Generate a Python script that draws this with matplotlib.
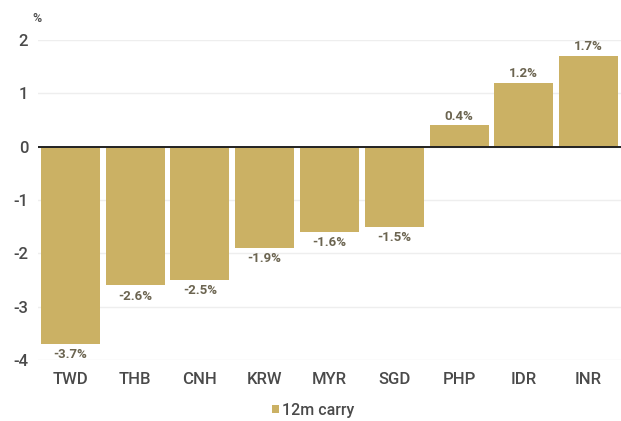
import matplotlib
matplotlib.use("Agg")
import matplotlib.pyplot as plt
import numpy as np

plt.rcParams['font.family'] = ['Roboto', 'DejaVu Sans']

currencies = ['TWD', 'THB', 'CNH', 'KRW', 'MYR', 'SGD', 'PHP', 'IDR', 'INR']
carry = [-3.7, -2.6, -2.5, -1.9, -1.6, -1.5, 0.4, 1.2, 1.7]
yticks = [-4, -3, -2, -1, 0, 1, 2]

bar_color = '#cbb164'
label_color = '#6b6450'
tick_color = '#4a4a4a'

fig = plt.figure(figsize=(6.21, 4.21), dpi=100)
ax = fig.add_axes([38 / 621, 1 - 360 / 421, 1 - 38 / 621, 320 / 421])

x = np.arange(len(currencies))
bars = ax.bar(x, carry, width=0.91, color=bar_color, zorder=2, label='12m carry')

for xi, v in zip(x, carry):
    off = 0.05 if v > 0 else -0.08
    ax.text(xi, v + off, f'{v:.1f}%', ha='center', va='bottom' if v > 0 else 'top',
            fontsize=9.5, fontweight='bold', color=label_color, clip_on=False)

ax.set_xlim(-0.5, len(currencies) - 0.5)
ax.set_ylim(-4, 2)
ax.set_yticks(yticks)
ax.set_yticklabels([str(t) for t in yticks])
ax.set_xticks(x)
ax.set_xticklabels(currencies)
ax.grid(axis='y', color='#eeeeee', linewidth=1, zorder=0)
ax.axhline(0, color='#222222', linewidth=1.4, zorder=3)

for s in ax.spines.values():
    s.set_visible(False)
ax.tick_params(axis='both', length=0, colors=tick_color, labelsize=12)
ax.tick_params(axis='y', pad=7)
ax.tick_params(axis='x', pad=9)
for lab in ax.get_yticklabels() + ax.get_xticklabels():
    lab.set_fontweight('medium')

fig.text(37 / 621, 1 - 19 / 421, '%', fontsize=9, fontweight='medium', color=tick_color,
         ha='center', va='center')

fig.legend(handles=[bars], labels=['12m carry'], loc='center', bbox_to_anchor=(313 / 621, 1 - 410 / 421),
           frameon=False, fontsize=11.5, handlelength=0.45, handleheight=0.45, handletextpad=0.2,
           labelcolor=tick_color, prop={'weight': 'medium', 'size': 11.5})

fig.savefig('out.png', dpi=100, facecolor='white')
